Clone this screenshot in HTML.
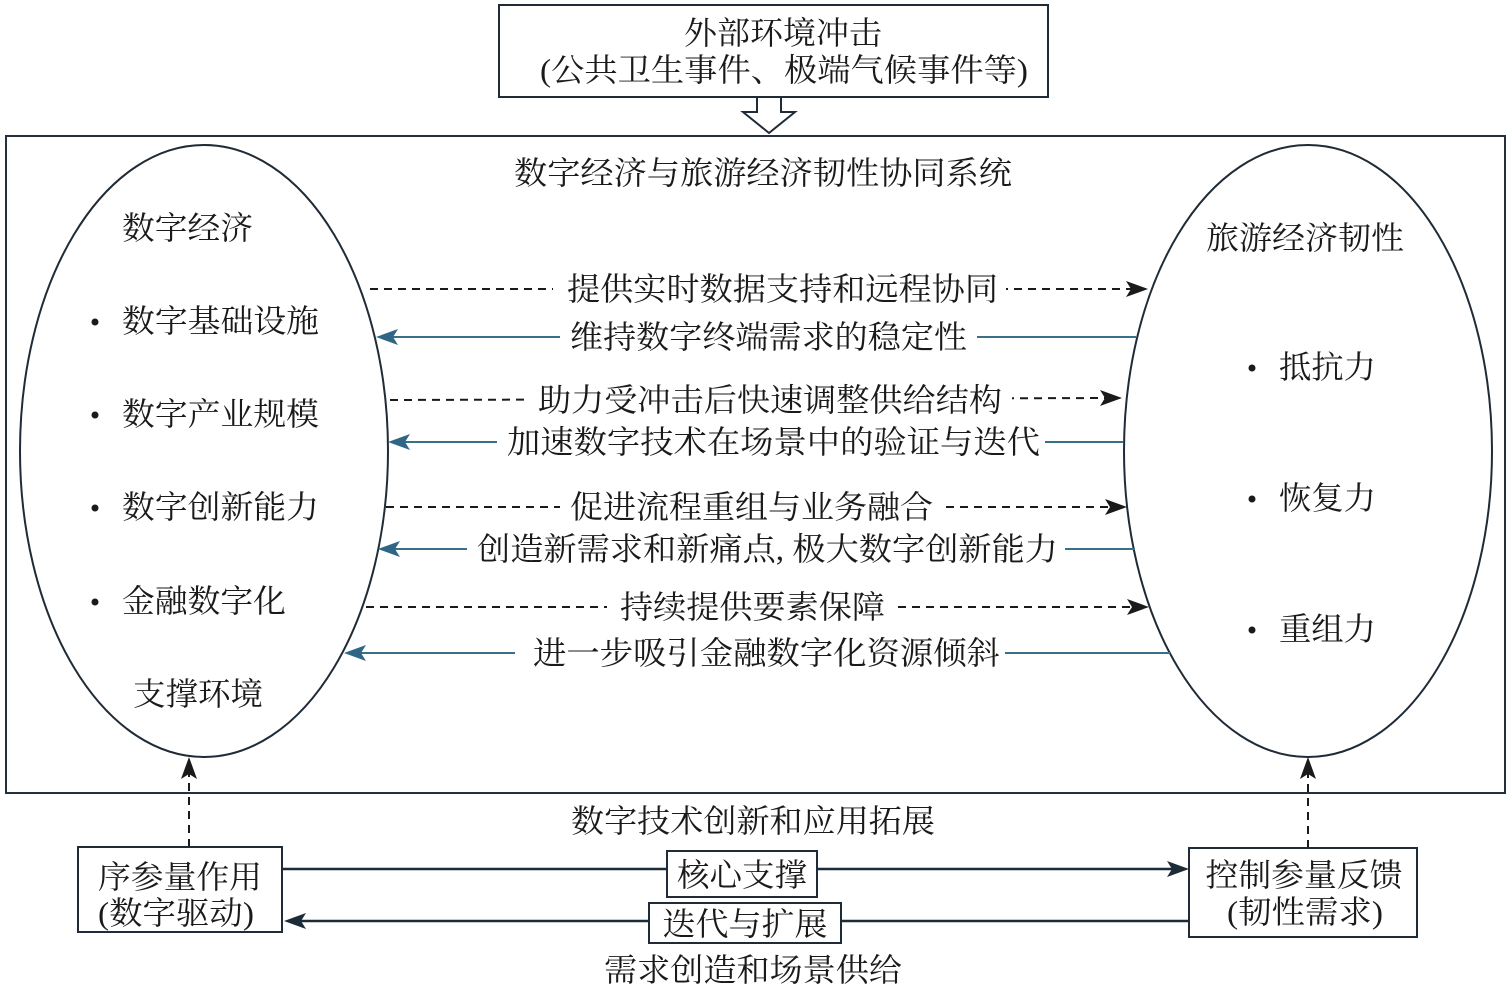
<!DOCTYPE html>
<html><head><meta charset="utf-8"><style>
html,body{margin:0;padding:0;background:#fff;}
svg{display:block;}
text{font-family:"Liberation Serif","Noto Serif CJK SC",serif;fill:#1a1a1a;}
</style></head><body>
<svg width="1512" height="993" viewBox="0 0 1512 993" xmlns="http://www.w3.org/2000/svg">
<rect x="0" y="0" width="1512" height="993" fill="#fff"/>
<!-- top box -->
<rect x="499" y="5" width="549" height="92" fill="#fff" stroke="#1f2b36" stroke-width="2"/>
<text x="783" y="44" font-size="32" text-anchor="middle" textLength="198" lengthAdjust="spacingAndGlyphs">外部环境冲击</text>
<text x="784" y="81" font-size="32" text-anchor="middle" textLength="488" lengthAdjust="spacingAndGlyphs">(公共卫生事件、极端气候事件等)</text>
<!-- main box -->
<rect x="6" y="136" width="1499" height="657" fill="#fff" stroke="#24313d" stroke-width="2"/>
<!-- hollow arrow -->
<polygon points="757,97 781,97 781,112 795,112 769,133 743,112 757,112" fill="#fff" stroke="#1f2b36" stroke-width="2"/>
<text x="763" y="184" font-size="32" text-anchor="middle" textLength="498" lengthAdjust="spacingAndGlyphs">数字经济与旅游经济韧性协同系统</text>
<!-- ellipses -->
<ellipse cx="204" cy="451" rx="184" ry="306" fill="#fff" stroke="#1f2b36" stroke-width="2"/>
<ellipse cx="1308" cy="451" rx="184" ry="306" fill="#fff" stroke="#1f2b36" stroke-width="2"/>
<!-- left texts -->
<text x="122" y="239" font-size="32" textLength="131" lengthAdjust="spacingAndGlyphs">数字经济</text>
<circle cx="95" cy="322" r="3.5" fill="#1a1a1a"/>
<text x="122" y="332" font-size="32" textLength="197" lengthAdjust="spacingAndGlyphs">数字基础设施</text>
<circle cx="95" cy="415" r="3.5" fill="#1a1a1a"/>
<text x="122" y="425" font-size="32" textLength="197" lengthAdjust="spacingAndGlyphs">数字产业规模</text>
<circle cx="95" cy="508" r="3.5" fill="#1a1a1a"/>
<text x="122" y="518" font-size="32" textLength="197" lengthAdjust="spacingAndGlyphs">数字创新能力</text>
<circle cx="95" cy="602" r="3.5" fill="#1a1a1a"/>
<text x="122" y="612" font-size="32" textLength="164" lengthAdjust="spacingAndGlyphs">金融数字化</text>
<text x="133" y="705" font-size="32" textLength="130" lengthAdjust="spacingAndGlyphs">支撑环境</text>
<!-- right texts -->
<text x="1206" y="249" font-size="32" textLength="198" lengthAdjust="spacingAndGlyphs">旅游经济韧性</text>
<circle cx="1252" cy="368" r="3.5" fill="#1a1a1a"/>
<text x="1279" y="378" font-size="32" textLength="97" lengthAdjust="spacingAndGlyphs">抵抗力</text>
<circle cx="1252" cy="499" r="3.5" fill="#1a1a1a"/>
<text x="1279" y="509" font-size="32" textLength="97" lengthAdjust="spacingAndGlyphs">恢复力</text>
<circle cx="1252" cy="630" r="3.5" fill="#1a1a1a"/>
<text x="1279" y="640" font-size="32" textLength="97" lengthAdjust="spacingAndGlyphs">重组力</text>

<!-- row 1 dashed right -->
<line x1="370" y1="289" x2="1136" y2="289" stroke="#1a1a1a" stroke-width="2" stroke-dasharray="8,6"/>
<rect x="553" y="272" width="453" height="34" fill="#fff"/>
<polygon points="1148,289 1126,281 1131,289 1126,297" fill="#1a1a1a"/>
<text x="567" y="300" font-size="32" textLength="431" lengthAdjust="spacingAndGlyphs">提供实时数据支持和远程协同</text>
<!-- row 2 solid left teal -->
<line x1="390" y1="337" x2="1136" y2="337" stroke="#3a6f8c" stroke-width="2"/>
<rect x="560" y="320" width="417" height="34" fill="#fff"/>
<polygon points="376,337 398,329 393,337 398,345" fill="#2f6686"/>
<text x="570" y="348" font-size="32" textLength="397" lengthAdjust="spacingAndGlyphs">维持数字终端需求的稳定性</text>
<!-- row 3 dashed right -->
<line x1="390" y1="400" x2="1110" y2="398" stroke="#1a1a1a" stroke-width="2" stroke-dasharray="8,6"/>
<rect x="528" y="382" width="484" height="34" fill="#fff"/>
<polygon points="1122,398 1100,390 1105,398 1100,406" fill="#1a1a1a"/>
<text x="538" y="411" font-size="32" textLength="464" lengthAdjust="spacingAndGlyphs">助力受冲击后快速调整供给结构</text>
<!-- row 4 solid left teal -->
<line x1="400" y1="442" x2="1123" y2="442" stroke="#3a6f8c" stroke-width="2"/>
<rect x="497" y="425" width="548" height="34" fill="#fff"/>
<polygon points="388,442 410,434 405,442 410,450" fill="#2f6686"/>
<text x="507" y="453" font-size="32" textLength="533" lengthAdjust="spacingAndGlyphs">加速数字技术在场景中的验证与迭代</text>
<!-- row 5 dashed right -->
<line x1="386" y1="507" x2="1115" y2="507" stroke="#1a1a1a" stroke-width="2" stroke-dasharray="8,6"/>
<rect x="560" y="490" width="383" height="34" fill="#fff"/>
<polygon points="1127,507 1105,499 1110,507 1105,515" fill="#1a1a1a"/>
<text x="570" y="518" font-size="32" textLength="363" lengthAdjust="spacingAndGlyphs">促进流程重组与业务融合</text>
<!-- row 6 solid left teal -->
<line x1="390" y1="549" x2="1135" y2="549" stroke="#3a6f8c" stroke-width="2"/>
<rect x="467" y="532" width="598" height="34" fill="#fff"/>
<polygon points="378,549 400,541 395,549 400,557" fill="#2f6686"/>
<text x="477" y="560" font-size="32" textLength="581" lengthAdjust="spacingAndGlyphs">创造新需求和新痛点, 极大数字创新能力</text>
<!-- row 7 dashed right -->
<line x1="366" y1="607" x2="1137" y2="607" stroke="#1a1a1a" stroke-width="2" stroke-dasharray="8,6"/>
<rect x="607" y="590" width="290" height="34" fill="#fff"/>
<polygon points="1149,607 1127,599 1132,607 1127,615" fill="#1a1a1a"/>
<text x="620" y="618" font-size="32" textLength="265" lengthAdjust="spacingAndGlyphs">持续提供要素保障</text>
<!-- row 8 solid left teal -->
<line x1="356" y1="653" x2="1170" y2="653" stroke="#3a6f8c" stroke-width="2"/>
<rect x="515" y="636" width="490" height="34" fill="#fff"/>
<polygon points="344,653 366,645 361,653 366,661" fill="#2f6686"/>
<text x="533" y="664" font-size="32" textLength="467" lengthAdjust="spacingAndGlyphs">进一步吸引金融数字化资源倾斜</text>

<!-- bottom vertical dashed arrows -->
<line x1="189" y1="847" x2="189" y2="770" stroke="#1a1a1a" stroke-width="2" stroke-dasharray="8,6"/>
<polygon points="189,757 181,779 189,774 197,779" fill="#1a1a1a"/>
<line x1="1308" y1="848" x2="1308" y2="770" stroke="#1a1a1a" stroke-width="2" stroke-dasharray="8,6"/>
<polygon points="1308,757 1300,779 1308,774 1316,779" fill="#1a1a1a"/>

<text x="571" y="832" font-size="32" textLength="364" lengthAdjust="spacingAndGlyphs">数字技术创新和应用拓展</text>

<!-- bottom lines -->
<line x1="282" y1="869" x2="1175" y2="869" stroke="#1c2b38" stroke-width="2.5"/>
<polygon points="1189,869 1167,861 1172,869 1167,877" fill="#1c2b38"/>
<line x1="298" y1="921" x2="1189" y2="921" stroke="#1c2b38" stroke-width="2.5"/>
<polygon points="284,921 306,913 301,921 306,929" fill="#1c2b38"/>

<!-- bottom boxes -->
<rect x="78" y="847" width="204" height="85" fill="#fff" stroke="#1f2b36" stroke-width="2"/>
<text x="180" y="888" font-size="32" text-anchor="middle" textLength="164" lengthAdjust="spacingAndGlyphs">序参量作用</text>
<text x="176" y="924" font-size="32" text-anchor="middle" textLength="156" lengthAdjust="spacingAndGlyphs">(数字驱动)</text>
<rect x="1189" y="848" width="228" height="89" fill="#fff" stroke="#1f2b36" stroke-width="2"/>
<text x="1304" y="886" font-size="32" text-anchor="middle" textLength="197" lengthAdjust="spacingAndGlyphs">控制参量反馈</text>
<text x="1305" y="923" font-size="32" text-anchor="middle" textLength="156" lengthAdjust="spacingAndGlyphs">(韧性需求)</text>

<rect x="667" y="851" width="150" height="46" fill="#fff" stroke="#1f2b36" stroke-width="2"/>
<text x="742" y="886" font-size="32" text-anchor="middle" textLength="130" lengthAdjust="spacingAndGlyphs">核心支撑</text>
<rect x="649" y="903" width="192" height="40" fill="#fff" stroke="#1f2b36" stroke-width="2"/>
<text x="745" y="935" font-size="32" text-anchor="middle" textLength="165" lengthAdjust="spacingAndGlyphs">迭代与扩展</text>

<text x="604" y="981" font-size="32" textLength="298" lengthAdjust="spacingAndGlyphs">需求创造和场景供给</text>
</svg>
</body></html>
